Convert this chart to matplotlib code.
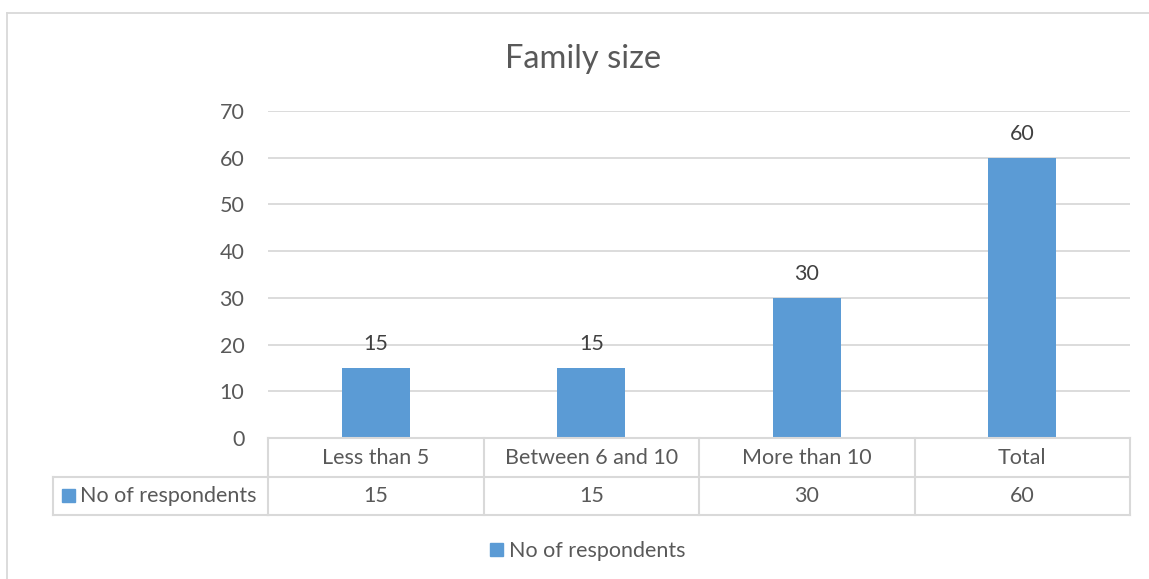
import matplotlib
matplotlib.use("Agg")
import matplotlib.pyplot as plt
from matplotlib.lines import Line2D
from matplotlib.patches import Rectangle
import matplotlib.transforms as mtransforms

categories = ["Less than 5", "Between 6 and 10", "More than 10", "Total"]
values = [15, 15, 30, 60]
series_name = "No of respondents"
title = "Family size"
yticks = [0, 10, 20, 30, 40, 50, 60, 70]

W, H = 1149, 579
BAR = "#5B9BD5"
TXT = "#595959"
GRID = "#D9D9D9"
FONT = "Lato"
FS = 15.5

plt.rcParams['font.family'] = [FONT, 'DejaVu Sans']

fig = plt.figure(figsize=(W / 100, H / 100), dpi=100)

def fx(px):
    return px / W

def fy(py):
    return 1 - py / H

# axes: plot area in pixels
L, R, T, B = 268, 1130, 111, 438
ax = fig.add_axes([fx(L), fy(B), fx(R) - fx(L), fy(T) - fy(B)])
x = list(range(len(categories)))
bars = ax.bar(x, values, width=0.314, color=BAR, zorder=3)
ax.set_xlim(-0.5, len(categories) - 0.5)
ax.set_ylim(0, 70)
ax.set_yticks(yticks)
ax.set_yticklabels([str(t) for t in yticks])
ax.tick_params(axis='y', length=0, pad=17, labelsize=FS, labelcolor=TXT)
ax.set_xticks([])
ax.grid(axis='y', color=GRID, linewidth=1.3, zorder=0)
for s in ax.spines.values():
    s.set_visible(False)
ax.bar_label(bars, labels=[str(v) for v in values], padding=10, fontsize=FS, color="#404040")

fig.text(fx(583), fy(59), title, ha='center', va='center', fontsize=23.5, color=TXT)

# data table
trans = mtransforms.blended_transform_factory(ax.transData, fig.transFigure)
lw = 1.5
row1, row2, row3 = fy(438), fy(477), fy(515)
xl, xr = -0.5, len(categories) - 0.5
for yy in (row1, row2, row3):
    fig.add_artist(Line2D([xl, xr], [yy, yy], transform=trans, color=GRID, lw=lw))
for i in range(len(categories) + 1):
    xv = -0.5 + i
    fig.add_artist(Line2D([xv, xv], [row1, row3], transform=trans, color=GRID, lw=lw))
# left header cell
for yy in (row2, row3):
    fig.add_artist(Line2D([fx(53), fx(L)], [yy, yy], color=GRID, lw=lw))
fig.add_artist(Line2D([fx(53), fx(53)], [row2, row3], color=GRID, lw=lw))

for i, (c, v) in enumerate(zip(categories, values)):
    fig.text(i, (row1 + row2) / 2, c, transform=trans, ha='center', va='center', fontsize=FS, color=TXT)
    fig.text(i, (row2 + row3) / 2, str(v), transform=trans, ha='center', va='center', fontsize=FS, color=TXT)

fig.add_artist(Rectangle((fx(62), fy(502)), fx(13), 13 / H, color=BAR))
fig.text(fx(80), (row2 + row3) / 2, series_name, ha='left', va='center', fontsize=FS, color=TXT)

# legend
leg = fig.legend([Rectangle((0, 0), 1, 1, color=BAR)], [series_name], loc='center',
                 bbox_to_anchor=(fx(588), fy(551)), frameon=False, fontsize=FS,
                 handlelength=0.6, handleheight=0.6, handletextpad=0.3, labelcolor=TXT)

# outer border (left and top visible)
fig.add_artist(Line2D([fx(7), fx(7)], [fy(13), 0], color=GRID, lw=1.3))
fig.add_artist(Line2D([fx(7), 1], [fy(13), fy(13)], color=GRID, lw=1.3))

fig.savefig("out.png", dpi=100, facecolor="white")
